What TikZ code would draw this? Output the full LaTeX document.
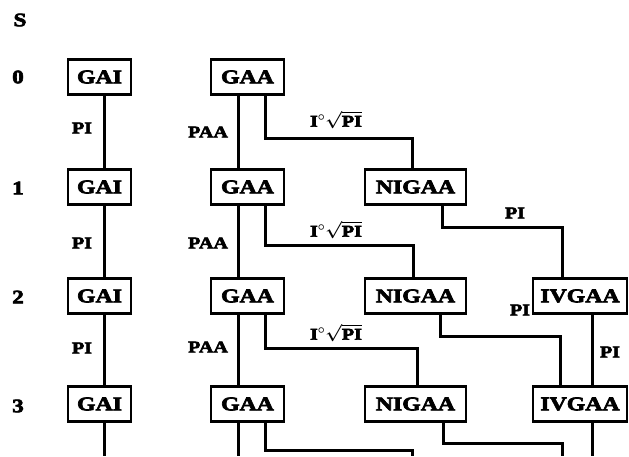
\documentclass[tikz,border=0pt]{standalone}
\usepackage{fontspec}
\setmainfont{Liberation Serif}[FakeStretch=1.22,BoldFeatures={FakeBold=3.5}]
\begin{document}
\begin{tikzpicture}[x=1pt,y=-1pt,
  box/.style={draw,line width=2.4pt,minimum height=35pt,inner sep=0pt,
    font=\fontsize{19.5}{19.5}\selectfont\bfseries},
  lbl/.style={inner sep=0pt,font=\fontsize{16.5}{16.5}\selectfont\bfseries\boldmath},
  stage/.style={inner sep=0pt,font=\fontsize{19}{19}\selectfont\bfseries},
  wire/.style={line width=3pt}]
\useasboundingbox (0,0) rectangle (629,456);

% stage index column
\node[stage] (s)  at (20,20)  {S};
\node[stage] (s0) at (18,77)  {0};
\node[stage] (s1) at (18,188) {1};
\node[stage] (s2) at (18,297) {2};
\node[stage] (s3) at (18,406) {3};

% GAI column
\node[box,minimum width=63pt] (g0) at (99.5,77)  {GAI};
\node[box,minimum width=63pt] (g1) at (99.5,187) {GAI};
\node[box,minimum width=63pt] (g2) at (99.5,296) {GAI};
\node[box,minimum width=63pt] (g3) at (99.5,404) {GAI};

% GAA column
\node[box,minimum width=73pt] (a0) at (247.5,77)  {GAA};
\node[box,minimum width=73pt] (a1) at (247.5,187) {GAA};
\node[box,minimum width=73pt] (a2) at (247.5,296) {GAA};
\node[box,minimum width=73pt] (a3) at (247.5,404) {GAA};

% NIGAA column
\node[box,minimum width=101pt] (n1) at (415.5,187) {NIGAA};
\node[box,minimum width=101pt] (n2) at (415.5,296) {NIGAA};
\node[box,minimum width=101pt] (n3) at (415.5,404) {NIGAA};

% IVGAA column
\node[box,minimum width=94pt] (v2) at (580,296) {IVGAA};
\node[box,minimum width=94pt] (v3) at (580,404) {IVGAA};

% open ends at the bottom edge
\coordinate (gx) at (104,456);
\coordinate (ax) at (238,456);
\coordinate (bx) at (412,456);
\coordinate (nx) at (562,456);
\coordinate (vx) at (592,456);

% GAI chain
\draw[wire] ([xshift=4.5]g0.south) -- ([xshift=4.5]g1.north);
\draw[wire] ([xshift=4.5]g1.south) -- ([xshift=4.5]g2.north);
\draw[wire] ([xshift=4.5]g2.south) -- ([xshift=4.5]g3.north);
\draw[wire] ([xshift=4.5]g3.south) -- (gx);

% GAA chain
\draw[wire] ([xshift=-9.5]a0.south) -- ([xshift=-9.5]a1.north);
\draw[wire] ([xshift=-9.5]a1.south) -- ([xshift=-9.5]a2.north);
\draw[wire] ([xshift=-9.5]a2.south) -- ([xshift=-9.5]a3.north);
\draw[wire] ([xshift=-9.5]a3.south) -- (ax);

% GAA -> NIGAA branches
\draw[wire] ([xshift=17.5]a0.south) -- ++(0,43) -| ([xshift=-3]n1.north);
\draw[wire] ([xshift=17.5]a1.south) -- ++(0,40) -| ([xshift=-2.5]n2.north);
\draw[wire] ([xshift=17.5]a2.south) -- ++(0,34) -| ([xshift=1.5]n3.north);
\draw[wire] ([xshift=17.5]a3.south) -- ++(0,28) -| (bx);

% NIGAA -> IVGAA branches
\draw[wire] ([xshift=26.5]n1.south) -- ++(0,22) -| ([xshift=-18]v2.north);
\draw[wire] ([xshift=25]n2.south) -- ++(0,22) -| ([xshift=-20]v3.north);
\draw[wire] ([xshift=27.5]n3.south) -- ++(0,21) -| (nx);

% IVGAA chain
\draw[wire] ([xshift=12]v2.south) -- ([xshift=12]v3.north);
\draw[wire] ([xshift=12]v3.south) -- (vx);

% transition labels
\node[lbl] (p01) at (82,128) {PI};
\node[lbl] (p12) at (82,243) {PI};
\node[lbl] (p23) at (82,348) {PI};
\node[lbl] (q01) at (208,132) {PAA};
\node[lbl] (q12) at (208,243) {PAA};
\node[lbl] (q23) at (208,347) {PAA};
\node[lbl] (r01) at (336,120) {I$^{\circ}$$\sqrt{\mbox{PI}}$};
\node[lbl] (r12) at (336,230) {I$^{\circ}$$\sqrt{\mbox{PI}}$};
\node[lbl] (r23) at (336,333) {I$^{\circ}$$\sqrt{\mbox{PI}}$};
\node[lbl] (t12) at (515,213) {PI};
\node[lbl] (t2a) at (520,310) {PI};
\node[lbl] (t23) at (610,352) {PI};
\end{tikzpicture}
\end{document}
